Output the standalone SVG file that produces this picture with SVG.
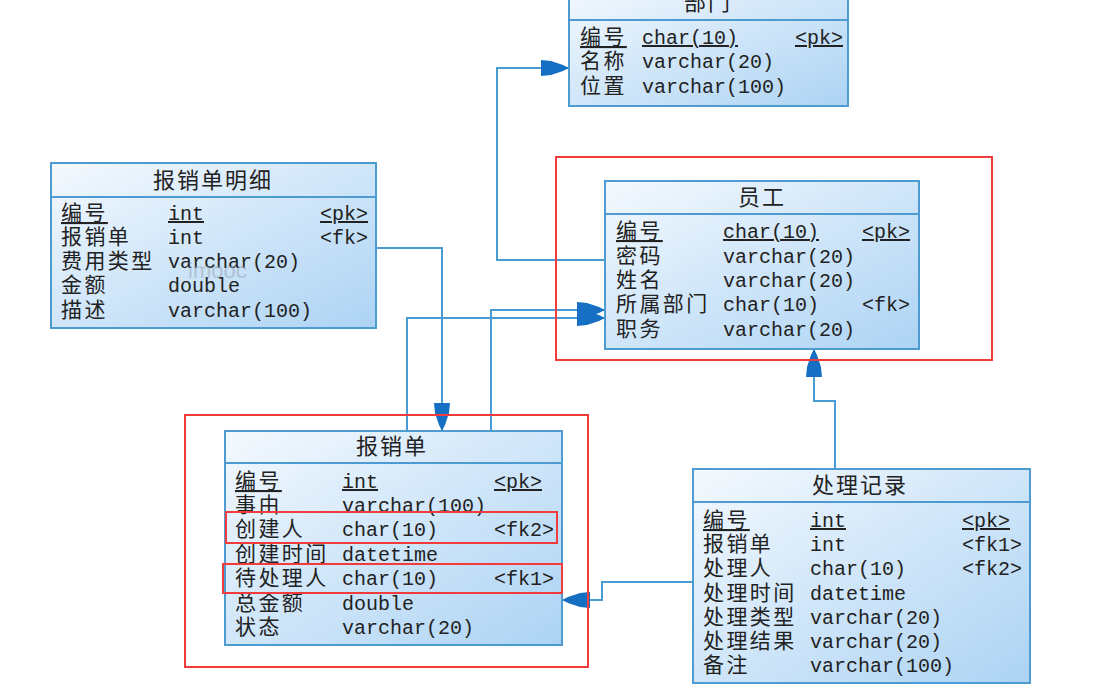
<svg xmlns="http://www.w3.org/2000/svg" width="1102" height="688" viewBox="0 0 1102 688">
<defs>
<linearGradient id="tbl" x1="0" y1="0" x2="1" y2="1">
<stop offset="0" stop-color="#f4f9fe"/>
<stop offset="1" stop-color="#acd3f4"/>
</linearGradient>
<marker id="arr" viewBox="-30 -9 32 18" refX="0" refY="0" markerWidth="32" markerHeight="18" markerUnits="userSpaceOnUse" orient="auto">
<path d="M0,0 L-6,-3 L-18,-7 L-28,-8 L-28,8 L-18,7 L-6,3 Z" fill="#1570c4"/>
</marker>
<style>
.box{fill:url(#tbl);stroke:#4d9bd1;stroke-width:2}
.sep{stroke:#4d9bd1;stroke-width:2}
.cn{font-family:"Liberation Sans","Noto Sans CJK SC","Noto Sans CJK JP",sans-serif;font-size:21px;letter-spacing:2.4px;fill:#222}
.tt{font-family:"Liberation Sans","Noto Sans CJK SC","Noto Sans CJK JP",sans-serif;font-size:22px;letter-spacing:2px;fill:#222;text-anchor:middle}
.mo{font-family:"Liberation Mono","DejaVu Sans Mono",monospace;font-size:20px;fill:#222}
.u{text-decoration:underline}
.conn{fill:none;stroke:#4a9ad4;stroke-width:2;marker-end:url(#arr)}
.red{fill:none;stroke:#f23b3b;stroke-width:2}
.wm{font-family:"Liberation Sans",sans-serif;font-size:22px;fill:#9aa4ad;opacity:0.5}
</style>
</defs>
<rect width="1102" height="688" fill="#ffffff"/>

<g id="connectors">
<polyline class="conn" points="605,260 497,260 497,68 569,68"/>
<polyline class="conn" points="376,248 442,248 442,431"/>
<polyline class="conn" points="407,431 407,318 605,318"/>
<polyline class="conn" points="491,431 491,310 605,310"/>
<polyline class="conn" points="835,469 835,401 814,401 814,349"/>
<polyline class="conn" points="693,582 602,582 602,600 562,600"/>
</g>

<g id="bumen">
<rect class="box" x="569" y="-14" width="279" height="120"/>
<line class="sep" x1="569" y1="20" x2="848" y2="20"/>
<text class="tt" x="708" y="10">部门</text>
<text class="cn u" x="580" y="44">编号</text><text class="mo u" x="642" y="44">char(10)</text><text class="mo u" x="795" y="44">&lt;pk&gt;</text>
<text class="cn" x="580" y="68">名称</text><text class="mo" x="642" y="68">varchar(20)</text>
<text class="cn" x="580" y="93">位置</text><text class="mo" x="642" y="93">varchar(100)</text>
</g>

<g id="mingxi">
<rect class="box" x="51" y="163" width="325" height="165"/>
<line class="sep" x1="51" y1="197" x2="376" y2="197"/>
<text class="tt" x="213" y="188">报销单明细</text>
<text class="cn u" x="61" y="220">编号</text><text class="mo u" x="168" y="220">int</text><text class="mo u" x="320" y="220">&lt;pk&gt;</text>
<text class="cn" x="61" y="244">报销单</text><text class="mo" x="168" y="244">int</text><text class="mo" x="320" y="244">&lt;fk&gt;</text>
<text class="cn" x="61" y="268">费用类型</text><text class="mo" x="168" y="268">varchar(20)</text>
<text class="cn" x="61" y="292">金额</text><text class="mo" x="168" y="292">double</text>
<text class="cn" x="61" y="317">描述</text><text class="mo" x="168" y="317">varchar(100)</text>
<text class="wm" x="188" y="278">imooc</text>
</g>

<g id="yuangong">
<rect class="box" x="605" y="181" width="314" height="168"/>
<line class="sep" x1="605" y1="214" x2="919" y2="214"/>
<text class="tt" x="762" y="205">员工</text>
<text class="cn u" x="616" y="238">编号</text><text class="mo u" x="723" y="238">char(10)</text><text class="mo u" x="862" y="238">&lt;pk&gt;</text>
<text class="cn" x="616" y="263">密码</text><text class="mo" x="723" y="263">varchar(20)</text>
<text class="cn" x="616" y="287">姓名</text><text class="mo" x="723" y="287">varchar(20)</text>
<text class="cn" x="616" y="311">所属部门</text><text class="mo" x="723" y="311">char(10)</text><text class="mo" x="862" y="311">&lt;fk&gt;</text>
<text class="cn" x="616" y="336">职务</text><text class="mo" x="723" y="336">varchar(20)</text>
</g>

<g id="baoxiaodan">
<rect class="box" x="225" y="431" width="337" height="214"/>
<line class="sep" x1="225" y1="463" x2="562" y2="463"/>
<text class="tt" x="392" y="454">报销单</text>
<text class="cn u" x="235" y="488">编号</text><text class="mo u" x="342" y="488">int</text><text class="mo u" x="494" y="488">&lt;pk&gt;</text>
<text class="cn" x="235" y="512">事由</text><text class="mo" x="342" y="512">varchar(100)</text>
<text class="cn" x="235" y="536">创建人</text><text class="mo" x="342" y="536">char(10)</text><text class="mo" x="494" y="536">&lt;fk2&gt;</text>
<text class="cn" x="235" y="561">创建时间</text><text class="mo" x="342" y="561">datetime</text>
<text class="cn" x="235" y="585">待处理人</text><text class="mo" x="342" y="585">char(10)</text><text class="mo" x="494" y="585">&lt;fk1&gt;</text>
<text class="cn" x="235" y="610">总金额</text><text class="mo" x="342" y="610">double</text>
<text class="cn" x="235" y="634">状态</text><text class="mo" x="342" y="634">varchar(20)</text>
</g>

<g id="chulijilu">
<rect class="box" x="693" y="469" width="337" height="214"/>
<line class="sep" x1="693" y1="502" x2="1030" y2="502"/>
<text class="tt" x="860" y="493">处理记录</text>
<text class="cn u" x="703" y="527">编号</text><text class="mo u" x="810" y="527">int</text><text class="mo u" x="962" y="527">&lt;pk&gt;</text>
<text class="cn" x="703" y="551">报销单</text><text class="mo" x="810" y="551">int</text><text class="mo" x="962" y="551">&lt;fk1&gt;</text>
<text class="cn" x="703" y="575">处理人</text><text class="mo" x="810" y="575">char(10)</text><text class="mo" x="962" y="575">&lt;fk2&gt;</text>
<text class="cn" x="703" y="600">处理时间</text><text class="mo" x="810" y="600">datetime</text>
<text class="cn" x="703" y="624">处理类型</text><text class="mo" x="810" y="624">varchar(20)</text>
<text class="cn" x="703" y="648">处理结果</text><text class="mo" x="810" y="648">varchar(20)</text>
<text class="cn" x="703" y="672">备注</text><text class="mo" x="810" y="672">varchar(100)</text>
</g>

<g id="highlights">
<rect class="red" x="556" y="157" width="436" height="203"/>
<rect class="red" x="185" y="415" width="403" height="252"/>
<rect class="red" x="226" y="512" width="331" height="31"/>
<rect class="red" x="223" y="564" width="339" height="29"/>
</g>
</svg>
